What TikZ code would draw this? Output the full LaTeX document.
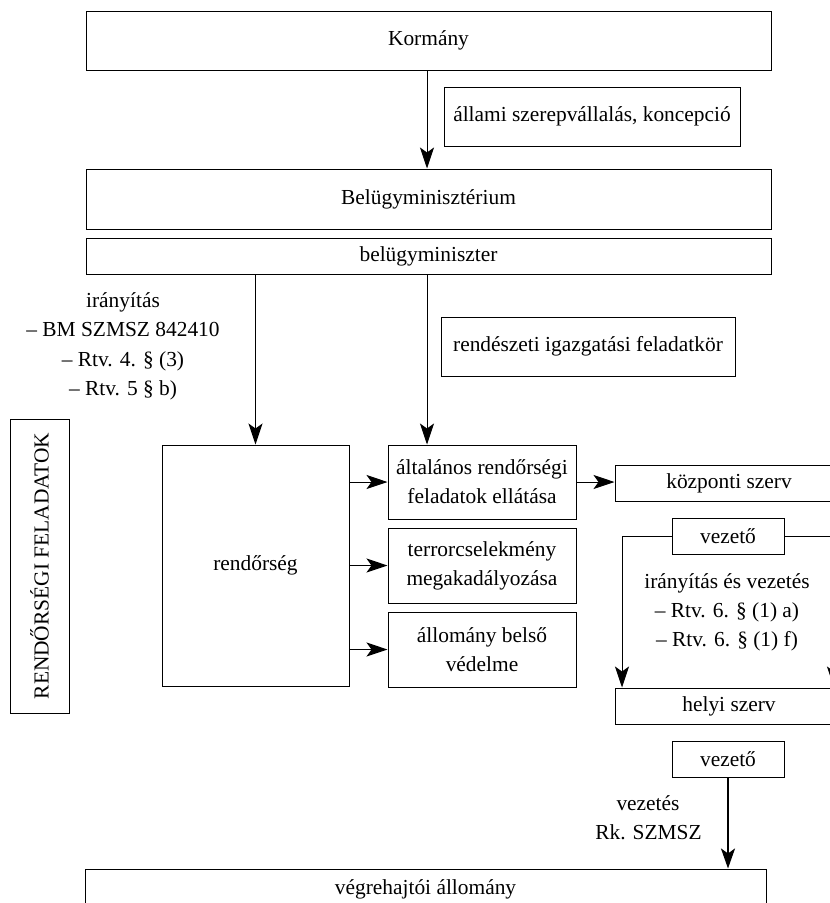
\documentclass[tikz,border=0pt]{standalone}
\usepackage{fontspec}
\setmainfont{Liberation Serif}
\usetikzlibrary{arrows.meta}
\newcommand\diagfont{\fontsize{21.4}{29}\selectfont}
\begin{document}
\begin{tikzpicture}[x=1pt,y=-1pt,
  box/.style={draw, line width=1pt, rectangle, inner sep=0pt, font=\diagfont, align=center},
  lbl/.style={inner sep=0pt, font=\diagfont, anchor=base},
  arr/.style={line width=1pt, -{Stealth[length=21pt,width=14pt,inset=5pt]}},
  thickarr/.style={line width=2.4pt, -{Stealth[length=20pt,width=14pt,inset=5pt]}}]
\useasboundingbox (0,0) rectangle (830,903);
\clip (0,0) rectangle (830,903);
% boxes
\node[box, minimum width=685pt, minimum height=59pt] (korm) at (428.5,40.5) {Kormány};
\node[box, minimum width=296pt, minimum height=59pt] (allami) at (592,116.5) {állami szerepvállalás, koncepció};
\node[box, minimum width=685pt, minimum height=60pt] (bel) at (428.5,199) {Belügyminisztérium};
\node[box, minimum width=685pt, minimum height=36pt] (bm) at (428.5,256) {belügyminiszter};
\node[box, minimum width=294pt, minimum height=59pt] (rend) at (588,346.5) {rendészeti igazgatási feladatkör};
\node[box, minimum width=294pt, minimum height=59pt, rotate=90] (rf) at (39.5,566) {RENDŐRSÉGI FELADATOK};
\node[box, minimum width=187pt, minimum height=241pt] (pol) at (255.5,565.5) {rendőrség};
\node[box, minimum width=188pt, minimum height=74pt] (t1) at (482,482) {általános rendőrségi\\feladatok ellátása};
\node[box, minimum width=188pt, minimum height=75pt] (t2) at (482,565.5) {terrorcselekmény\\megakadályozása};
\node[box, minimum width=188pt, minimum height=75pt] (t3) at (482,649.5) {állomány belső\\védelme};
\node[box, minimum width=228pt, minimum height=36pt] (kozp) at (729,483) {központi szerv};
\node[box, minimum width=112pt, minimum height=36pt] (vez1) at (728,536) {vezető};
\node[box, minimum width=228pt, minimum height=36pt] (helyi) at (729,706) {helyi szerv};
\node[box, minimum width=112pt, minimum height=36pt] (vez2) at (728,759) {vezető};
\node[box, minimum width=681pt, minimum height=40pt] (vegr) at (425.5,889) {végrehajtói állomány};
% labels
\node[lbl] (ir1) at (123,307) {irányítás};
\node[lbl] (ir2) at (123,336.5) {– BM SZMSZ 842410};
\node[lbl] (ir3) at (123,366) {– Rtv. 4. § (3)};
\node[lbl] (ir4) at (123,395.5) {– Rtv. 5 § b)};
\node[lbl] (iv1) at (727,588) {irányítás és vezetés};
\node[lbl] (iv2) at (727,617) {– Rtv. 6. § (1) a)};
\node[lbl] (iv3) at (727,646) {– Rtv. 6. § (1) f)};
\node[lbl] (vz1) at (648,810) {vezetés};
\node[lbl] (vz2) at (648.5,839) {Rk. SZMSZ};
% connectors
\coordinate (mx) at (427,0);
\coordinate (lx) at (622,0);
\coordinate (rx) at (834,0);
\draw[arr] (korm.south -| mx) -- (bel.north -| mx);
\draw[arr] (bm.south -| pol.north) -- (pol.north);
\draw[arr] (bm.south -| mx) -- (t1.north -| mx);
\draw[arr] (pol.east |- t1.west) -- (t1.west);
\draw[arr] (pol.east |- t2.west) -- (t2.west);
\draw[arr] (pol.east |- t3.west) -- (t3.west);
\draw[arr] (t1.east) -- (t1.east -| kozp.west);
\draw[arr] (vez1.west) -| (helyi.north -| lx);
\draw[arr] (vez1.east) -| (helyi.north -| rx);
\draw[thickarr] (vez2.south) -- (vegr.north -| vez2.south);
\end{tikzpicture}
\end{document}
